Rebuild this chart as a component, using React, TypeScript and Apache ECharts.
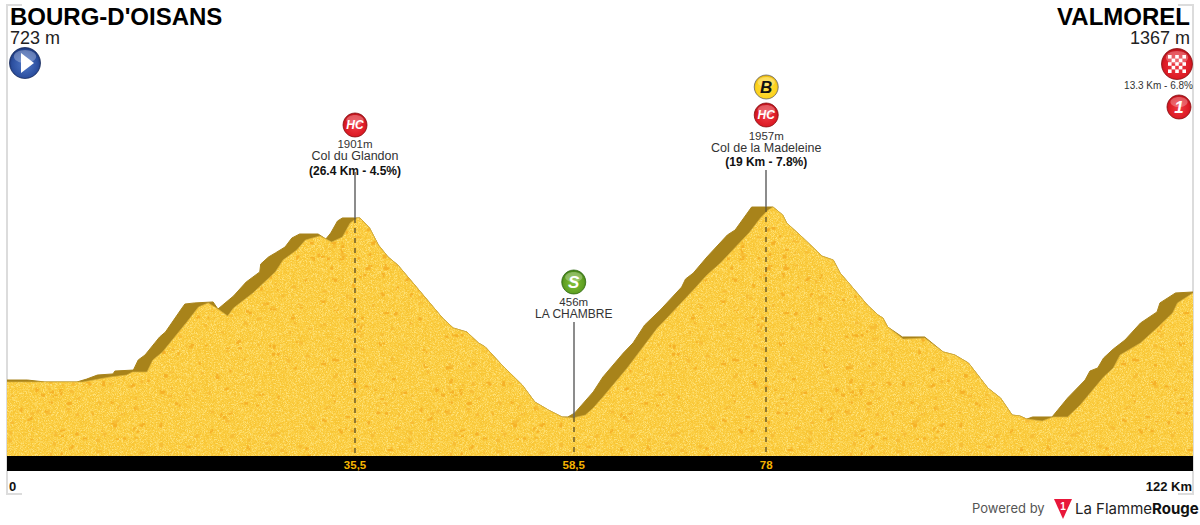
import React, { useEffect, useRef } from "react";
import * as echarts from "echarts";

// Stage profile: km along the stage, metres of altitude
const ridgeKm = [0, 2.1, 3.9, 7.2, 8.2, 9.3, 10.9, 11.1, 13.0, 13.5, 14.2, 15.7, 16.3, 18.0, 18.3, 19.3, 21.2, 21.7, 23.3, 24.6, 26.0, 26.1, 26.9, 27.6, 28.6, 29.3, 30.1, 32.0, 32.8, 33.3, 34.0, 34.5, 36.3, 37.3, 38.2, 39.2, 40.2, 42.2, 44.8, 45.9, 47.3, 48.5, 49.2, 50.9, 53.0, 54.3, 55.7, 57.1, 57.7, 58.4, 60.3, 61.3, 63.4, 64.4, 65.6, 67.2, 69.4, 69.8, 70.6, 72.0, 74.1, 74.9, 76.6, 78.8, 79.8, 80.2, 81.9, 83.4, 83.8, 85.0, 85.7, 86.5, 88.5, 89.6, 90.1, 90.6, 92.1, 94.4, 96.3, 97.5, 98.9, 100.9, 102.2, 103.4, 104.2, 104.9, 105.5, 107.5, 109.1, 110.9, 111.4, 112.2, 112.8, 113.8, 115.0, 116.6, 118.3, 118.6, 120.2, 122];
const ridgeM = [730, 730, 716, 716, 737, 766, 774, 795, 802, 875, 911, 1041, 1077, 1250, 1279, 1287, 1294, 1243, 1337, 1438, 1511, 1568, 1619, 1648, 1691, 1756, 1785, 1785, 1749, 1792, 1879, 1901, 1901, 1828, 1706, 1619, 1561, 1395, 1178, 1106, 1077, 998, 969, 839, 694, 571, 513, 463, 463, 492, 644, 752, 925, 998, 1128, 1236, 1402, 1460, 1503, 1619, 1778, 1814, 1980, 1980, 1922, 1865, 1756, 1655, 1626, 1597, 1503, 1438, 1272, 1200, 1178, 1113, 1041, 1041, 933, 911, 853, 672, 600, 477, 470, 448, 463, 463, 600, 730, 795, 817, 889, 954, 1019, 1142, 1222, 1287, 1359, 1366];

// Lit face of the relief, below the ridge on the climbs
const faceKm = [0, 7.8, 10.6, 12.3, 12.9, 14.4, 15.0, 16.0, 18.5, 19.7, 20.7, 21.7, 22.7, 23.3, 25.3, 27.6, 28.4, 29.8, 30.7, 32.2, 32.8, 33.4, 34.5, 35.3, 36.0, 36.3, 37.3, 38.2, 39.2, 40.2, 42.2, 44.8, 45.9, 47.3, 48.5, 49.2, 50.9, 53.0, 54.3, 55.7, 57.1, 58.2, 59.5, 60.3, 61.3, 63.8, 66.9, 67.5, 70.6, 72.0, 73.4, 76.4, 77.5, 78.3, 78.8, 79.8, 80.2, 81.9, 83.4, 83.8, 85.0, 85.7, 86.5, 88.5, 89.6, 90.1, 90.6, 92.2, 94.4, 96.3, 97.5, 98.9, 100.9, 102.2, 103.4, 104.2, 104.9, 106.5, 107.6, 109.1, 110.4, 112.8, 113.8, 114.5, 116.6, 118.3, 119.9, 120.4, 122];
const faceM = [716, 716, 752, 766, 788, 788, 875, 933, 1149, 1258, 1287, 1243, 1193, 1250, 1359, 1511, 1597, 1669, 1742, 1771, 1749, 1727, 1763, 1865, 1901, 1901, 1828, 1706, 1619, 1561, 1395, 1178, 1106, 1077, 998, 969, 839, 694, 571, 513, 463, 456, 477, 528, 607, 817, 1106, 1149, 1380, 1489, 1576, 1799, 1901, 1958, 1980, 1922, 1865, 1756, 1655, 1626, 1597, 1503, 1438, 1272, 1200, 1178, 1113, 1026, 1034, 933, 911, 853, 672, 600, 477, 470, 448, 434, 463, 463, 550, 752, 817, 911, 998, 1106, 1214, 1287, 1359];

// Points of interest along the route
const passKm = [35.8, 58.3, 78.1];
const passTickLabels = ["35,5", "58,5", "78"];
const passTopM = [1901, 463, 1980];
const leaderTopM = [2233, 1149, 2247];
const passAltitudes = ["1901m", "456m", "1957m"];
const passNames = ["Col du Glandon", "LA CHAMBRE", "Col de la Madeleine"];
const passClimbs = ["(26.4 Km - 4.5%)", "", "(19 Km - 7.8%)"];
const passBadges = ["HC", "S", "HC"];

const startName = "BOURG-D'OISANS";
const startAltitude = "723 m";
const finishName = "VALMOREL";
const finishAltitude = "1367 m";
const finishClimb = "13.3 Km - 6.8%";
const startKmLabel = "0";
const endKmLabel = "122 Km";

const FONT = '"Liberation Sans", Arial, sans-serif';
const zip = (a: number[], b: number[]) => a.map((v, i) => [v, b[i]]);

function makeTexture() {
  const size = 400;
  const c = document.createElement("canvas");
  c.width = size;
  c.height = size;
  const ctx = c.getContext("2d")!;
  let s = 12345;
  const next = () => {
    s = (s * 1103515245 + 12345) & 0x7fffffff;
    return s / 0x7fffffff;
  };
  ctx.fillStyle = "#fbcd42";
  ctx.fillRect(0, 0, size, size);
  for (let y = 0; y < size; y++) {
    for (let x = 0; x < size; x++) {
      const n = next();
      if (n < 0.25) {
        ctx.fillStyle = "#fcd65a";
        ctx.fillRect(x, y, 1, 1);
      } else if (n < 0.5) {
        ctx.fillStyle = "#f8c636";
        ctx.fillRect(x, y, 1, 1);
      } else if (n < 0.58) {
        ctx.fillStyle = "#fee074";
        ctx.fillRect(x, y, 1, 1);
      }
    }
  }
  for (let i = 0; i < 800; i++) {
    const x = next() * size;
    const y = next() * size;
    const parts = 1 + Math.floor(next() * 3);
    ctx.fillStyle = next() < 0.5 ? "#f5b128" : "#f7bd35";
    for (let k = 0; k < parts; k++) {
      ctx.fillRect(x + next() * 4, y + next() * 3, 1 + next() * 3, 1 + next() * 2);
    }
  }
  return c;
}

function badgeGradient(light: string, mid: string, dark: string) {
  return new echarts.graphic.RadialGradient(0.5, 0.55, 0.6, [
    { offset: 0, color: light },
    { offset: 0.7, color: mid },
    { offset: 1, color: dark },
  ]);
}

const BADGE_STYLES: Record<string, [string, string, string, string, string]> = {
  HC: ["#f03a44", "#dc1a24", "#a20f16", "#fff", "#8a0e12"],
  S: ["#82c23a", "#5fa022", "#2f6a10", "#fff", "#2f6a10"],
  B: ["#ffe04a", "#fcd21c", "#d8a208", "#111", "#666"],
  "1": ["#f03a44", "#dc1a24", "#a20f16", "#fff", "#8a0e12"],
};

function gloss(r: number) {
  return {
    type: "ellipse",
    shape: { cx: 0, cy: -r * 0.42, rx: r * 0.72, ry: r * 0.42 },
    style: { fill: "rgba(255,255,255,0.28)" },
  };
}

function badge(x: number, y: number, label: string, r = 12) {
  const [a, b, c, fg, edge] = BADGE_STYLES[label];
  return {
    type: "group",
    x,
    y,
    silent: true,
    children: [
      { type: "circle", shape: { r }, style: { fill: badgeGradient(a, b, c), stroke: edge, lineWidth: 0.8 } },
      gloss(r),
      {
        type: "text",
        style: {
          text: label,
          x: 0,
          y: 0,
          align: "center",
          verticalAlign: "middle",
          fill: fg,
          font: `italic bold ${label === "HC" ? 12 : 17}px ${FONT}`,
        },
      },
    ],
  };
}

function centered(x: number, y: number, text: string, font: string, fill = "#333") {
  return { type: "text", silent: true, style: { text, x, y, align: "center", verticalAlign: "middle", font, fill } };
}

function frame() {
  const line = { stroke: "#dcdcdc", lineWidth: 2, fill: "none" };
  return [
    { type: "polyline", silent: true, shape: { points: [[22, 5], [7, 5], [7, 494], [22, 494]] }, style: line },
    { type: "polyline", silent: true, shape: { points: [[1178, 5], [1193, 5], [1193, 494], [1178, 494]] }, style: line },
  ];
}

function startIcon() {
  return {
    type: "group",
    x: 25,
    y: 63,
    silent: true,
    children: [
      { type: "circle", shape: { r: 15.5 }, style: { fill: badgeGradient("#4f78c8", "#2c4f9f", "#132a66"), stroke: "#14285c", lineWidth: 0.8 } },
      gloss(15.5),
      { type: "polygon", shape: { points: [[-4, -10], [9, 0], [-4, 10]] }, style: { fill: "#fff" } },
    ],
  };
}

function finishIcon() {
  const cells: any[] = [];
  const n = 5;
  const d = 3.6;
  for (let i = 0; i < n; i++) {
    for (let j = 0; j < n; j++) {
      if ((i + j) % 2 === 0) {
        cells.push({
          type: "rect",
          shape: { x: (i - n / 2) * d, y: (j - n / 2) * d, width: d, height: d },
          style: { fill: "#fff" },
        });
      }
    }
  }
  return {
    type: "group",
    x: 1177,
    y: 64,
    silent: true,
    children: [
      { type: "circle", shape: { r: 15.5 }, style: { fill: badgeGradient("#f03a44", "#dc1a24", "#a20f16"), stroke: "#8a0e12", lineWidth: 0.8 } },
      gloss(15.5),
      ...cells,
    ],
  };
}

export default function App() {
  const ref = useRef<HTMLDivElement>(null);
  useEffect(() => {
    const chart = echarts.init(ref.current!, undefined, { renderer: "svg" });
    const texture = makeTexture();
    const leaders = passKm.map((km, i) => [
      { coord: [km, leaderTopM[i]], lineStyle: { type: "solid", color: "#666", width: 1.5 } },
      { coord: [km, passTopM[i]] },
    ]);
    const drops = passKm.map((km, i) => [
      { coord: [km, passTopM[i]], lineStyle: { type: [5, 5], color: "#6e5c2a", width: 1.5 } },
      { coord: [km, 181] },
    ]);

    chart.setOption({
      animation: false,
      backgroundColor: "#fff",
      grid: { left: 7, width: 1186, top: 10.5, height: 445.5 },
      xAxis: {
        type: "value",
        min: 0,
        max: 122,
        offset: 7.5,
        splitLine: { show: false },
        axisLine: { show: true, onZero: false, lineStyle: { color: "#000", width: 15, cap: "butt" } },
        axisTick: { show: false },
        axisLabel: {
          show: true,
          customValues: passKm,
          margin: -5,
          color: "#f5b400",
          fontFamily: FONT,
          fontWeight: "bold",
          fontSize: 11.5,
          formatter: (v: number) => passTickLabels[passKm.indexOf(v)] ?? "",
        },
      },
      yAxis: { type: "value", min: 181, max: 3400, show: false, splitLine: { show: false } },
      series: [
        {
          type: "line",
          name: "ridge",
          data: zip(ridgeKm, ridgeM),
          symbol: "none",
          silent: true,
          z: 2,
          lineStyle: { color: "#a8831a", width: 1 },
          areaStyle: { color: "#a8831a", opacity: 1 },
        },
        {
          type: "line",
          name: "face",
          data: zip(faceKm, faceM),
          symbol: "none",
          silent: true,
          z: 3,
          lineStyle: { color: "#d8b03c", width: 0.7 },
          areaStyle: { color: { image: texture, repeat: "repeat" }, opacity: 1 },
          markLine: {
            silent: true,
            symbol: "none",
            label: { show: false },
            animation: false,
            data: [...leaders, ...drops],
          },
        },
      ],
    });

    const px = passKm.map((km) => chart.convertToPixel({ xAxisIndex: 0 }, km) as number);
    chart.setOption({
      graphic: [
        ...frame(),
        { type: "text", silent: true, style: { text: startName, x: 10, y: 16, verticalAlign: "middle", font: `bold 24px ${FONT}`, fill: "#000" } },
        { type: "text", silent: true, style: { text: startAltitude, x: 10, y: 38, verticalAlign: "middle", font: `18px ${FONT}`, fill: "#222" } },
        startIcon(),
        { type: "text", silent: true, style: { text: finishName, x: 1190, y: 16, align: "right", verticalAlign: "middle", font: `bold 24px ${FONT}`, fill: "#000" } },
        { type: "text", silent: true, style: { text: finishAltitude, x: 1190, y: 38, align: "right", verticalAlign: "middle", font: `18px ${FONT}`, fill: "#222" } },
        finishIcon(),
        { type: "text", silent: true, style: { text: finishClimb, x: 1193, y: 85, align: "right", verticalAlign: "middle", font: `10px ${FONT}`, fill: "#333" } },
        badge(1179, 107, "1"),

        badge(px[0], 125, passBadges[0]),
        centered(px[0], 144, passAltitudes[0], `11.5px ${FONT}`),
        centered(px[0], 156, passNames[0], `12.5px ${FONT}`),
        centered(px[0], 171, passClimbs[0], `bold 12px ${FONT}`, "#111"),

        badge(px[1], 282, passBadges[1]),
        centered(px[1], 302, passAltitudes[1], `11.5px ${FONT}`),
        centered(px[1], 314, passNames[1], `12px ${FONT}`),

        badge(px[2], 87, "B"),
        badge(px[2], 115, passBadges[2]),
        centered(px[2], 136, passAltitudes[2], `11.5px ${FONT}`),
        centered(px[2], 148, passNames[2], `12.5px ${FONT}`),
        centered(px[2], 162, passClimbs[2], `bold 12px ${FONT}`, "#111"),

        { type: "text", silent: true, style: { text: startKmLabel, x: 9, y: 486, verticalAlign: "middle", font: `bold 13px ${FONT}`, fill: "#111" } },
        { type: "text", silent: true, style: { text: endKmLabel, x: 1192, y: 486, align: "right", verticalAlign: "middle", font: `bold 13px ${FONT}`, fill: "#111" } },

        { type: "text", silent: true, style: { text: "Powered by", x: 972, y: 508, verticalAlign: "middle", font: "13px Inter, Roboto, sans-serif", fill: "#555" } },
        { type: "polygon", silent: true, shape: { points: [[1054, 499], [1072, 499], [1063, 519]] }, style: { fill: "#e8173a" } },
        { type: "text", silent: true, style: { text: "1", x: 1063, y: 506, align: "center", verticalAlign: "middle", font: `bold 10px ${FONT}`, fill: "#fff" } },
        {
          type: "text",
          silent: true,
          style: {
            text: "{a|La Flamme}{b|Rouge}",
            x: 1075,
            y: 508,
            verticalAlign: "middle",
            rich: {
              a: { font: "15px Inter, Roboto, sans-serif", fill: "#222" },
              b: { font: "bold 15px Inter, Roboto, sans-serif", fill: "#111" },
            },
          },
        },
      ],
    });
    return () => chart.dispose();
  }, []);
  return (
    <div
      ref={ref}
      style={{ position: "fixed", left: 0, top: 0, width: 1200, height: 525, overflow: "hidden" }}
    />
  );
}
